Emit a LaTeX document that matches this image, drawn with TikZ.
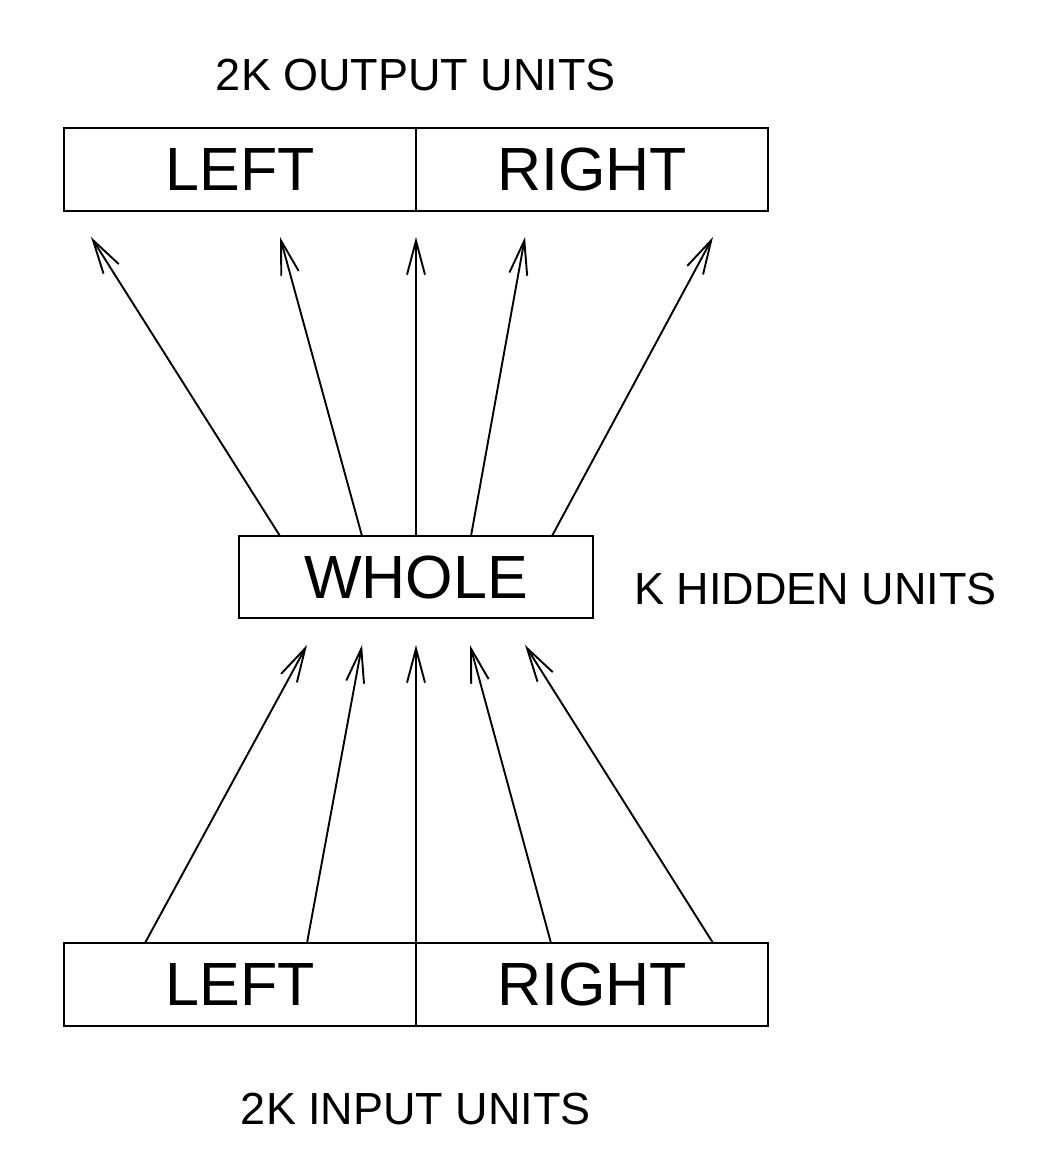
\documentclass[tikz,border=0pt]{standalone}
\usepackage{fontspec}
\setmainfont{Liberation Sans}
\usetikzlibrary{arrows.meta}
\begin{document}
\begin{tikzpicture}[x=1pt,y=-1pt,
  box/.style={draw,line width=2pt,inner sep=0pt,minimum width=352pt,minimum height=83pt,font=\fontsize{61}{61}\selectfont},
  captext/.style={font=\fontsize{45}{45}\selectfont,inner sep=0pt},
  conn/.style={line width=1.9pt,-{Straight Barb[length=34pt,width=18pt,line width=1.9pt]}}]
\useasboundingbox (0,0) rectangle (1056,1166);
% top
\node[captext] (outcap) at (416,75) {2K OUTPUT UNITS};
\node[box] (outl) at (240,169.5) {LEFT};
\node[box] (outr) at (592,169.5) {RIGHT};
% hidden
\node[box,minimum width=354pt,minimum height=82pt] (whole) at (416,577) {WHOLE};
\node[captext,anchor=west] (hidcap) at (634,589) {K HIDDEN UNITS};
% bottom
\node[box] (inl) at (240,984.5) {LEFT};
\node[box] (inr) at (592,984.5) {RIGHT};
\node[captext] (incap) at (416,1109) {2K INPUT UNITS};
% coordinates: top arrows
\coordinate (s1) at (280,536); \coordinate (t1) at (91,237);
\coordinate (s2) at (362,536); \coordinate (t2) at (280,237);
\coordinate (s3) at (416,536); \coordinate (t3) at (416,237);
\coordinate (s4) at (471,536); \coordinate (t4) at (525,237);
\coordinate (s5) at (552,536); \coordinate (t5) at (713,237);
% bottom arrows
\coordinate (b1) at (145,943); \coordinate (h1) at (307,645);
\coordinate (b2) at (307,943); \coordinate (h2) at (362,645);
\coordinate (b3) at (416,943); \coordinate (h3) at (416,645);
\coordinate (b4) at (551,943); \coordinate (h4) at (470,645);
\coordinate (b5) at (713,943); \coordinate (h5) at (525,645);
\foreach \i in {1,...,5}{
  \draw[conn] (s\i) -- (t\i);
  \draw[conn] (b\i) -- (h\i);
}
\end{tikzpicture}
\end{document}
